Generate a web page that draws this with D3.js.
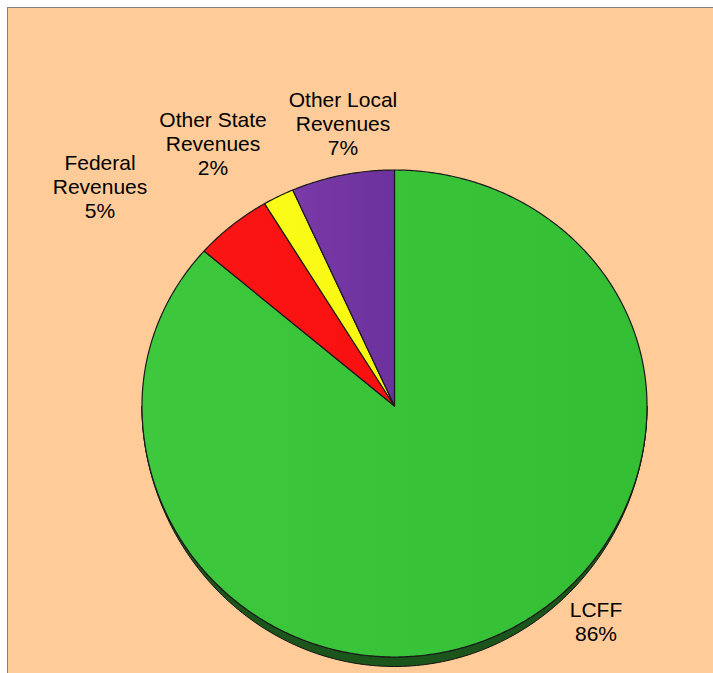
<!DOCTYPE html>
<html>
<head>
<meta charset="utf-8">
<script src="https://cdn.jsdelivr.net/npm/d3@7/dist/d3.min.js"></script>
<style>
  html, body { margin: 0; padding: 0; background: #ffffff; }
  svg { display: block; }
  text { font-family: "Liberation Sans", Arial, sans-serif; }
</style>
</head>
<body>
<svg id="chart" width="713" height="673"></svg>
<script>
// ---- data ----
const categories = ["LCFF", "Federal Revenues", "Other State Revenues", "Other Local Revenues"];
const shares = [86.4, 5.0, 2.0, 6.6];
const pctLabels = ["86%", "5%", "2%", "7%"];
const labelLines = [["LCFF"], ["Federal", "Revenues"], ["Other State", "Revenues"], ["Other Local", "Revenues"]];
const sliceColors = ["#38C238", "#FA1212", "#FAFA14", "#7234A2"];

// ---- layout ----
const W = 713, H = 673;
const cx = 394.5, cy = 406, rx = 252.5, ryTop = 236, ryBot = 251, depth = 9.5;
const labelAnchors = [[596, 617], [100, 170], [213, 127], [343, 107]]; // first-line baselines
const lineGap = 24;

const svg = d3.select("#chart");

// panel
svg.append("rect").attr("x", 7.5).attr("y", 7.5).attr("width", W).attr("height", H)
  .attr("fill", "#FFCC99").attr("stroke", "#808080").attr("stroke-width", 1);

// scales mapping unit circle to the tilted ellipse
const xs = d3.scaleLinear().domain([-1, 1]).range([cx - rx, cx + rx]);
const ys = d3.scaleLinear().domain([-1, 0, 1]).range([cy - ryTop, cy, cy + ryBot]);
const pt = (a, dy = 0) => [xs(Math.sin(a)), ys(-Math.cos(a)) + dy];

const pie = d3.pie().sort(null).value(d => d)(shares);
const line = d3.line();

const defs = svg.append("defs");
function grad(id, c1, c2) {
  const g = defs.append("linearGradient").attr("id", id).attr("x1", "0%").attr("x2", "100%").attr("y1", "0%").attr("y2", "0%");
  g.append("stop").attr("offset", "0%").attr("stop-color", c1);
  g.append("stop").attr("offset", "100%").attr("stop-color", c2);
}
grad("g0", "#3DC83D", "#34BE34");
grad("g1", "#FC1515", "#F81010");
grad("g2", "#FCFC1A", "#F6F610");
grad("g3", "#7A3AA8", "#6C319C");

// rim (visible side of the disk), thinning toward the sides
const rimPts = [];
const steps = 180;
for (let i = 0; i <= steps; i++) rimPts.push(pt(Math.PI / 2 + Math.PI * i / steps));
for (let i = steps; i >= 0; i--) {
  const a = Math.PI / 2 + Math.PI * i / steps;
  const f = Math.pow(Math.max(0, -Math.cos(a)), 1.6);
  rimPts.push(pt(a, depth * f));
}
svg.append("path").attr("d", line(rimPts) + "Z")
  .attr("fill", "#1C551C").attr("stroke", "#111").attr("stroke-width", 1).attr("stroke-linejoin", "round");

// slices
const g = svg.append("g");
pie.forEach((p, i) => {
  const pts = [[cx, cy]];
  const n = Math.max(4, Math.ceil((p.endAngle - p.startAngle) / (Math.PI / 360)));
  for (let k = 0; k <= n; k++) pts.push(pt(p.startAngle + (p.endAngle - p.startAngle) * k / n));
  g.append("path").attr("d", line(pts) + "Z")
    .attr("fill", `url(#g${i})`)
    .attr("stroke", "#1a1a1a").attr("stroke-width", 1.2).attr("stroke-linejoin", "round");
});

// labels
const lg = svg.append("g").attr("font-size", 21).attr("fill", "#000").attr("text-anchor", "middle");
pie.forEach((p, i) => {
  const [x, y] = labelAnchors[i];
  const lines = labelLines[i].concat([pctLabels[i]]);
  const t = lg.append("text").attr("x", x).attr("y", y);
  lines.forEach((s, j) => {
    t.append("tspan").attr("x", x).attr("y", y + j * lineGap).text(s);
  });
});
</script>
</body>
</html>
